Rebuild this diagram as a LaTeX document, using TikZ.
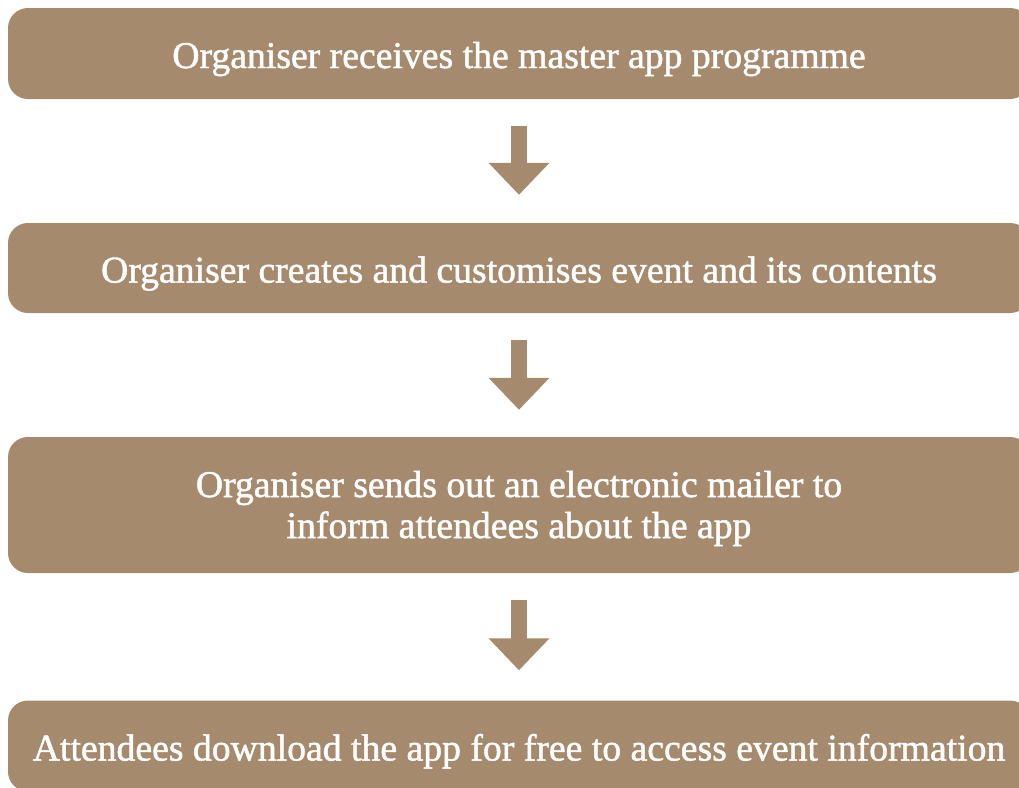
\documentclass[tikz,border=0pt]{standalone}
\usepackage{fontspec}
\setmainfont{Liberation Serif}
\newfontfamily\lblfont[FakeBold=1.3]{Liberation Serif}
\usetikzlibrary{arrows.meta,calc}
\definecolor{tan}{RGB}{166,138,109}
\begin{document}
\begin{tikzpicture}[x=1pt,y=-1pt,
  box/.style={fill=tan, draw=none, rounded corners=20pt, minimum width=1022pt, inner sep=0pt},
  lbl/.style={text=white, inner sep=0pt, anchor=base, font=\lblfont\fontsize{37.7}{41}\selectfont},
  arr/.style={draw=tan, line width=16pt, -{Triangle[width=59pt,length=32pt]}}]
\useasboundingbox (0,0) rectangle (1019,787);
\clip (0,0) rectangle (1019,787);
\node[box, minimum height=91pt] (b1) at (519,53.5) {};
\node[box, minimum height=90pt] (b2) at (519,268) {};
\node[box, minimum height=136pt] (b3) at (519,505) {};
\node[box, minimum height=91pt] (b4) at (519,746) {};
\node[lbl] (t1) at ($(b1.center)+(0,14.5)$) {Organiser receives the master app programme};
\node[lbl] (t2) at ($(b2.center)+(0,14.5)$) {Organiser creates and customises event and its contents};
\node[lbl] (t3a) at ($(b3.center)+(0,-8)$) {Organiser sends out an electronic mailer to};
\node[lbl] (t3b) at ($(b3.center)+(0,33)$) {inform attendees about the app};
\node[lbl] (t4) at ($(b4.center)+(0,14.5)$) {Attendees download the app for free to access event information};
\draw[arr] ($(b1.south)+(0,27)$) -- ($(b2.north)+(0,-28)$);
\draw[arr] ($(b2.south)+(0,27)$) -- ($(b3.north)+(0,-27)$);
\draw[arr] ($(b3.south)+(0,27)$) -- ($(b4.north)+(0,-30)$);
\end{tikzpicture}
\end{document}
